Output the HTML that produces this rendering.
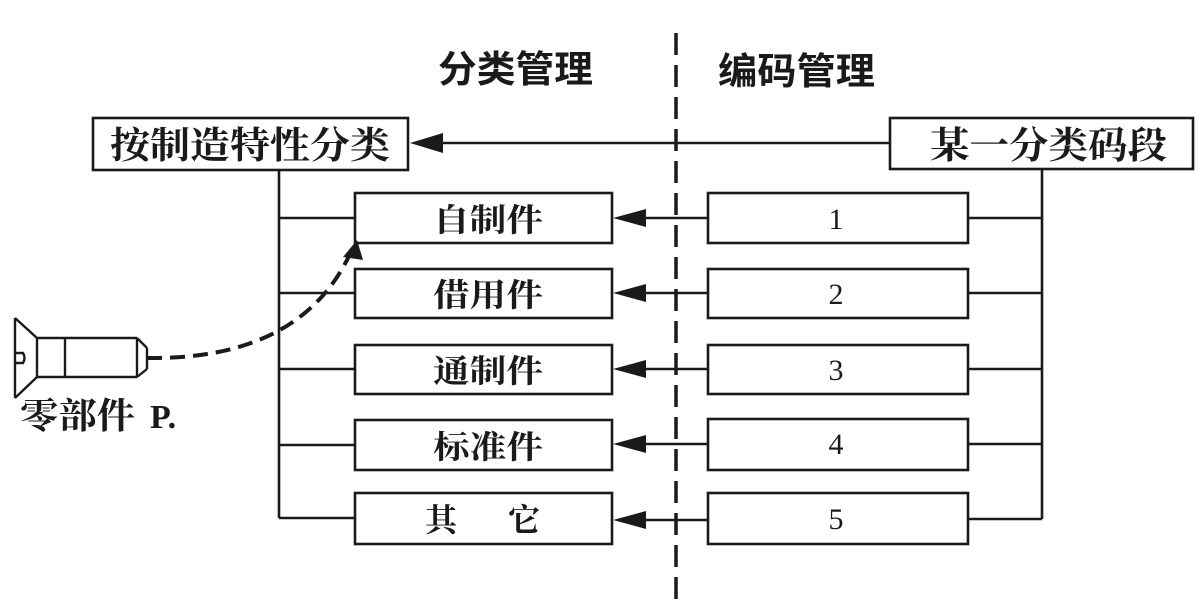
<!DOCTYPE html>
<html>
<head>
<meta charset="utf-8">
<style>
  html,body{margin:0;padding:0;background:#fff;}
  svg{display:block;}
  .cn{font-family:"Liberation Serif","Noto Serif CJK SC","Noto Sans CJK SC",serif;font-weight:bold;fill:#1a1a1a;}
  .hd{font-family:"Liberation Sans","Noto Sans CJK SC",sans-serif;font-weight:bold;fill:#1a1a1a;}
  .num{font-family:"Liberation Serif",serif;fill:#1a1a1a;}
</style>
</head>
<body>
<svg width="1204" height="608" viewBox="0 0 1204 608" xmlns="http://www.w3.org/2000/svg">
  <rect width="1204" height="608" fill="#fff"/>

  <!-- headers -->
  <text class="hd" x="438" y="82" font-size="37" textLength="155" lengthAdjust="spacingAndGlyphs">分类管理</text>
  <text class="hd" x="718" y="84" font-size="37" textLength="157" lengthAdjust="spacingAndGlyphs">编码管理</text>

  <!-- dashed divider -->
  <line x1="676" y1="33" x2="676" y2="602" stroke="#1a1a1a" stroke-width="3.5" stroke-dasharray="22,10"/>

  <g fill="none" stroke="#1a1a1a" stroke-width="2.6">
    <!-- top boxes -->
    <rect x="93" y="118" width="315" height="52"/>
    <rect x="890" y="118" width="303" height="51"/>
    <!-- top connector -->
    <line x1="890" y1="143" x2="440" y2="143"/>

    <!-- left boxes -->
    <rect x="355" y="193" width="257" height="50"/>
    <rect x="355" y="269" width="257" height="49"/>
    <rect x="355" y="345" width="257" height="49"/>
    <rect x="355" y="420" width="257" height="50"/>
    <rect x="355" y="493" width="257" height="51"/>

    <!-- right boxes -->
    <rect x="708" y="193" width="260" height="50"/>
    <rect x="708" y="269" width="260" height="49"/>
    <rect x="708" y="345" width="260" height="49"/>
    <rect x="708" y="419" width="260" height="51"/>
    <rect x="708" y="493" width="260" height="51"/>

    <!-- left tree -->
    <line x1="279" y1="170" x2="279" y2="518"/>
    <line x1="279" y1="218" x2="355" y2="218"/>
    <line x1="279" y1="293" x2="355" y2="293"/>
    <line x1="279" y1="369" x2="355" y2="369"/>
    <line x1="279" y1="445" x2="355" y2="445"/>
    <line x1="279" y1="518" x2="355" y2="518"/>

    <!-- right tree -->
    <line x1="1042" y1="169" x2="1042" y2="519"/>
    <line x1="968" y1="218" x2="1042" y2="218"/>
    <line x1="968" y1="293" x2="1042" y2="293"/>
    <line x1="968" y1="369" x2="1042" y2="369"/>
    <line x1="968" y1="444" x2="1042" y2="444"/>
    <line x1="968" y1="519" x2="1042" y2="519"/>

    <!-- arrows lines -->
    <line x1="708" y1="218" x2="640" y2="218"/>
    <line x1="708" y1="293" x2="640" y2="293"/>
    <line x1="708" y1="369" x2="640" y2="369"/>
    <line x1="708" y1="444" x2="640" y2="444"/>
    <line x1="708" y1="520" x2="640" y2="520"/>
  </g>

  <!-- arrowheads -->
  <g fill="#1a1a1a">
    <polygon points="410,143 443,133 443,153"/>
    <polygon points="613,218 646,209 646,227"/>
    <polygon points="613,293 646,284 646,302"/>
    <polygon points="613,369 646,360 646,378"/>
    <polygon points="613,444 646,435 646,453"/>
    <polygon points="613,520 646,511 646,529"/>
  </g>

  <!-- dashed curve -->
  <path d="M147,358 Q300,360 350,254" fill="none" stroke="#1a1a1a" stroke-width="4" stroke-dasharray="15,8"/>
  <polygon points="357,240 343,257 363,260" fill="#1a1a1a"/>

  <!-- screw -->
  <g fill="none" stroke="#1a1a1a" stroke-width="2.4">
    <line x1="15" y1="318" x2="15" y2="398"/>
    <line x1="15" y1="318" x2="37" y2="338"/>
    <line x1="15" y1="398" x2="37" y2="377"/>
    <line x1="37" y1="338" x2="37" y2="377"/>
    <line x1="37" y1="338" x2="137" y2="338"/>
    <line x1="37" y1="377" x2="137" y2="377"/>
    <line x1="65" y1="338" x2="65" y2="377"/>
    <line x1="137" y1="338" x2="137" y2="377"/>
    <line x1="137" y1="338" x2="147" y2="348"/>
    <line x1="137" y1="377" x2="147" y2="369"/>
    <line x1="147" y1="348" x2="147" y2="369"/>
    <path d="M15,353 L23,353 Q26,358 23,363 L15,363"/>
  </g>

  <!-- box labels -->
  <text class="cn" x="110" y="158" font-size="37" textLength="280" lengthAdjust="spacingAndGlyphs">按制造特性分类</text>
  <text class="cn" x="930" y="158" font-size="37" textLength="237" lengthAdjust="spacingAndGlyphs">某一分类码段</text>

  <text class="cn" x="433" y="231" font-size="32" textLength="110" lengthAdjust="spacingAndGlyphs">自制件</text>
  <text class="cn" x="433" y="306" font-size="32" textLength="110" lengthAdjust="spacingAndGlyphs">借用件</text>
  <text class="cn" x="433" y="382" font-size="32" textLength="110" lengthAdjust="spacingAndGlyphs">通制件</text>
  <text class="cn" x="433" y="458" font-size="32" textLength="110" lengthAdjust="spacingAndGlyphs">标准件</text>
  <text class="cn" x="425" y="531" font-size="32">其</text>
  <text class="cn" x="508" y="531" font-size="32">它</text>

  <text class="num" x="836" y="229" font-size="30" text-anchor="middle">1</text>
  <text class="num" x="836" y="304" font-size="30" text-anchor="middle">2</text>
  <text class="num" x="836" y="380" font-size="30" text-anchor="middle">3</text>
  <text class="num" x="836" y="454" font-size="30" text-anchor="middle">4</text>
  <text class="num" x="836" y="529" font-size="30" text-anchor="middle">5</text>

  <!-- part label -->
  <text class="cn" x="20" y="428" font-size="36" textLength="115" lengthAdjust="spacingAndGlyphs">零部件</text>
  <text class="num" x="150" y="428" font-size="34" font-weight="bold">P.</text>
</svg>
</body>
</html>
